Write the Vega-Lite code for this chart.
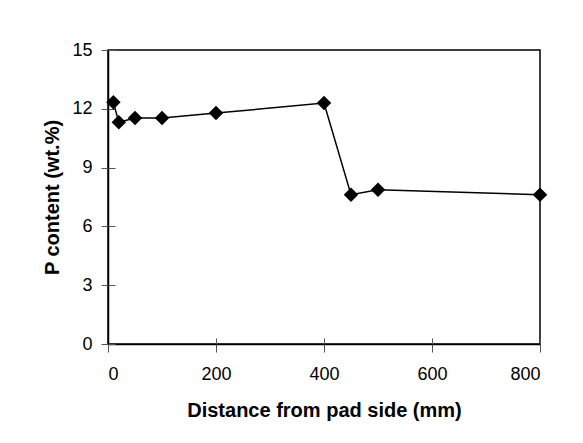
{
  "$schema": "https://vega.github.io/schema/vega-lite/v6.json",
  "width": 432,
  "height": 294,
  "autosize": {"type": "none"},
  "padding": {"left": 108, "top": 50, "right": 43, "bottom": 99},
  "background": "white",
  "config": {
    "view": {"stroke": "black", "strokeWidth": 1.5},
    "font": "Liberation Sans",
    "axis": {
      "grid": false,
      "labelFont": "Liberation Sans",
      "labelFontSize": 18,
      "labelColor": "black",
      "titleFont": "Liberation Sans",
      "titleFontSize": 20,
      "titleFontWeight": "bold",
      "titleColor": "black",
      "domainColor": "black",
      "domainWidth": 1.5,
      "tickColor": "#555",
      "tickWidth": 1
    }
  },
  "data": {
    "values": [
      {"d": 10, "p": 12.33},
      {"d": 20, "p": 11.31},
      {"d": 50, "p": 11.53},
      {"d": 100, "p": 11.53},
      {"d": 200, "p": 11.78},
      {"d": 400, "p": 12.29},
      {"d": 450, "p": 7.62},
      {"d": 500, "p": 7.87},
      {"d": 800, "p": 7.62}
    ]
  },
  "resolve": {"axis": {"x": "independent", "y": "independent"}},
  "layer": [
    {
      "mark": {"type": "line", "color": "black", "strokeWidth": 1.5},
      "encoding": {
        "x": {"field": "d", "type": "quantitative", "scale": {"domain": [0, 800], "nice": false},
          "axis": {"orient": "bottom", "values": [0, 200, 400, 600, 800], "tickSize": 8, "labelPadding": 13, "title": "Distance from pad side (mm)", "titlePadding": 17}},
        "y": {"field": "p", "type": "quantitative", "scale": {"domain": [0, 15], "nice": false},
          "axis": {"orient": "left", "values": [0, 3, 6, 9, 12, 15], "tickSize": 7, "labelPadding": 9, "title": "P content (wt.%)", "titlePadding": 9}}
      }
    },
    {
      "mark": {"type": "point", "shape": "diamond", "filled": true, "color": "black", "opacity": 1, "size": 210},
      "encoding": {
        "x": {"field": "d", "type": "quantitative",
          "axis": {"orient": "bottom", "values": [0, 200, 400, 600, 800], "tickSize": -6, "labels": false, "domain": false, "title": null}},
        "y": {"field": "p", "type": "quantitative",
          "axis": {"orient": "left", "values": [0, 3, 6, 9, 12, 15], "tickSize": -7, "labels": false, "domain": false, "title": null}}
      }
    }
  ]
}
